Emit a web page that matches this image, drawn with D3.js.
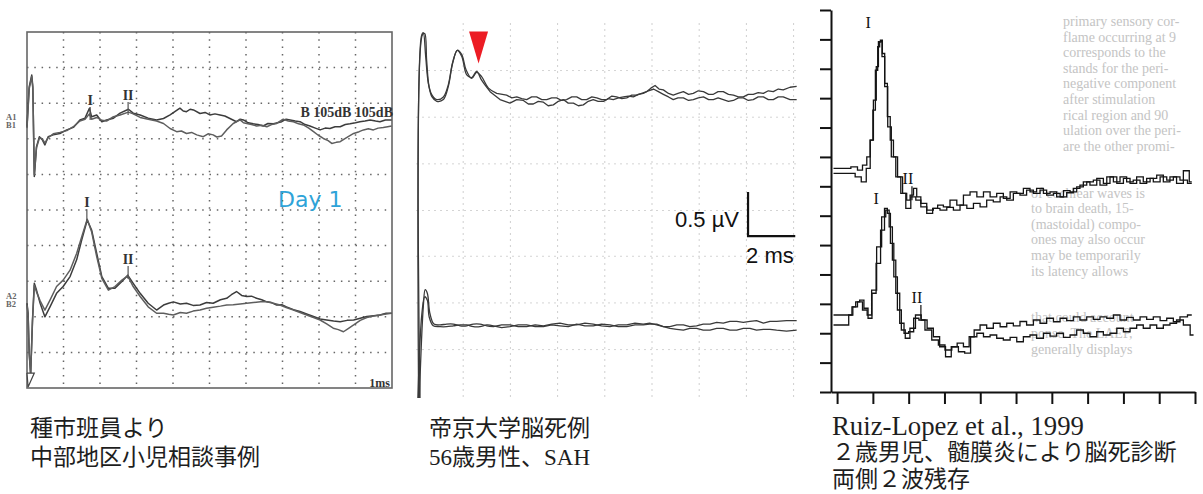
<!DOCTYPE html>
<html>
<head>
<meta charset="utf-8">
<script src="https://cdn.jsdelivr.net/npm/d3@7"></script>
<style>
  body { margin: 0; background: #fff; }
  svg { display: block; }
</style>
</head>
<body>
<svg id="chart" width="1203" height="494"></svg>
<script>
// ---- panel 1 : ms (x) / grid divisions from top (y) ----
const p1TopA = [[0,2.66],[0.06,1.54],[0.13,1.21],[0.16,1.54],[0.2,4.06],[0.26,3.22],[0.34,2.94],[0.42,3.03],[0.49,3.17],[0.58,2.94],[0.72,2.89],[0.9,2.85],[1.09,2.75],[1.27,2.68],[1.45,2.47],[1.59,2.42],[1.71,2.14],[1.77,2.38],[1.91,2.33],[2.05,2.52],[2.18,2.47],[2.37,2.42],[2.55,2.28],[2.78,2.17],[2.91,2.28],[3.1,2.33],[3.32,2.42],[3.55,2.47],
  [3.74,2.43],[3.92,2.33],[4.05,2.24],[4.19,2.14],[4.28,2.22],[4.37,2.24],[4.47,2.17],[4.56,2.19],[4.74,2.29],[4.88,2.26],[5.01,2.33],[5.15,2.3],[5.29,2.33],[5.42,2.36],[5.56,2.43],[5.74,2.52],[5.84,2.45],[5.93,2.47],[6.06,2.55],[6.2,2.58],[6.33,2.6],[6.47,2.64],[6.6,2.57],[6.75,2.58],[6.98,2.52],[7.1,2.45],[7.21,2.47],[7.35,2.5],[7.48,2.52],[7.62,2.6],[7.75,2.64],[7.9,2.7],[8.03,2.75],[8.17,2.7],[8.3,2.71],[8.44,2.66],[8.58,2.66],[8.72,2.6],[8.85,2.58],[9.0,2.55],[9.12,2.52],[9.26,2.5],[9.4,2.47],[9.55,2.5],[9.67,2.52],[9.82,2.47],[9.99,2.47]];
const p1TopB = [[0,2.7],[0.06,1.6],[0.13,1.25],[0.16,1.6],[0.2,4.0],[0.26,3.25],[0.34,2.98],[0.42,3.0],[0.49,3.12],[0.58,2.97],[0.72,2.86],[0.9,2.82],[1.09,2.77],[1.27,2.66],[1.45,2.5],[1.59,2.45],[1.71,2.3],[1.77,2.45],[1.91,2.4],[2.05,2.48],[2.18,2.5],[2.37,2.38],[2.55,2.33],[2.78,2.25],[2.91,2.3],[3.1,2.4],[3.32,2.45],[3.55,2.5],
  [3.74,2.57],[3.92,2.71],[4.1,2.8],[4.23,2.78],[4.37,2.85],[4.51,2.82],[4.65,2.89],[4.83,2.94],[4.96,2.86],[5.1,2.89],[5.2,2.95],[5.33,2.92],[5.47,2.75],[5.65,2.57],[5.84,2.47],[5.93,2.55],[6.02,2.57],[6.15,2.6],[6.29,2.64],[6.43,2.62],[6.57,2.66],[6.7,2.6],[6.84,2.57],[7.02,2.45],[7.16,2.5],[7.3,2.52],[7.44,2.58],[7.57,2.61],[7.72,2.7],[7.85,2.8],[7.98,2.9],[8.12,2.99],[8.25,3.05],[8.35,3.13],[8.47,3.1],[8.58,3.08],[8.7,3.0],[8.8,2.94],[8.95,2.85],[9.1,2.8],[9.22,2.75],[9.35,2.72],[9.49,2.75],[9.62,2.7],[9.76,2.68],[9.88,2.66],[9.99,2.64]];
const p1BotA = [[0,7.62],[0.03,7.9],[0.06,9.03],[0.1,9.63],[0.15,8.09],[0.2,7.06],[0.26,7.25],[0.36,7.62],[0.49,8.0],[0.63,7.72],[0.81,7.34],[0.99,7.15],[1.18,6.87],[1.36,6.4],[1.5,5.84],[1.65,5.28],[1.77,5.56],[1.91,6.22],[2.05,6.87],[2.23,7.2],[2.41,7.2],[2.6,7.01],[2.76,6.83],[2.91,7.06],[3.1,7.34],[3.32,7.62],[3.55,7.81],[3.74,7.67],[3.88,7.62],[4.01,7.58],[4.2,7.64],[4.37,7.62],[4.55,7.68],[4.74,7.67],[4.92,7.6],[5.1,7.62],[5.3,7.52],[5.47,7.48],[5.6,7.38],[5.74,7.29],[5.88,7.4],[6.02,7.43],[6.15,7.42],[6.29,7.48],[6.43,7.52],[6.57,7.58],[6.7,7.6],[6.84,7.67],[6.98,7.66],[7.11,7.72],[7.3,7.8],[7.48,7.85],[7.66,7.92],[7.85,7.99],[8.03,8.06],[8.21,8.09],[8.4,8.12],[8.58,8.14],[8.77,8.1],[8.95,8.09],[9.13,8.04],[9.31,7.99],[9.5,7.97],[9.67,7.95],[9.84,7.9],[9.99,7.9]];
const p1BotB = [[0,7.66],[0.03,7.95],[0.06,9.0],[0.1,9.6],[0.15,8.15],[0.2,7.12],[0.26,7.3],[0.36,7.55],[0.49,7.81],[0.63,7.53],[0.81,7.15],[0.99,6.97],[1.18,6.69],[1.36,6.22],[1.5,5.75],[1.65,5.26],[1.77,5.61],[1.91,6.31],[2.05,6.92],[2.23,7.25],[2.41,7.15],[2.6,6.97],[2.76,6.85],[2.91,7.15],[3.1,7.43],[3.32,7.72],[3.55,7.9],[3.74,7.9],[3.88,7.93],[4.01,7.95],[4.2,7.88],[4.37,7.9],[4.55,7.84],[4.74,7.81],[4.92,7.76],[5.1,7.73],[5.3,7.7],[5.47,7.67],[5.65,7.66],[5.84,7.64],[6.02,7.62],[6.2,7.6],[6.4,7.58],[6.57,7.58],[6.75,7.62],[6.93,7.67],[7.1,7.74],[7.3,7.81],[7.48,7.88],[7.66,7.95],[7.85,8.02],[8.03,8.09],[8.21,8.2],[8.39,8.32],[8.53,8.36],[8.67,8.42],[8.8,8.33],[8.95,8.23],[9.13,8.1],[9.31,8.02],[9.5,7.98],[9.67,7.95],[9.84,7.92],[9.99,7.9]];
const p1Waves = [["I",1.73,2.05],["II",2.77,1.91],["I",1.64,4.92],["II",2.77,6.52]];
const p1Grid = d3.range(1, 10);

// ---- panel 2 : ms (x) / µV above the bottom edge (y) ----
const p2TopA = [[0.17,0],[0.28,4.13],[0.37,4.14],[0.45,3.84],[0.55,3.54],[0.68,3.42],[0.88,3.37],[1.16,3.39],[1.37,3.54],[1.55,3.8],[1.75,3.95],[1.94,3.9],[2.12,3.73],[2.36,3.63],[2.57,3.7],[2.78,3.65],[3.07,3.52],[3.42,3.46],[3.84,3.44],[4.06,3.41],[4.27,3.42],[4.48,3.4],[4.69,3.39],[4.9,3.42],[5.11,3.42],[5.33,3.39],[5.54,3.39],[5.75,3.41],[5.96,3.41],[6.17,3.38],[6.38,3.39],[6.6,3.42],[6.81,3.42],[7.02,3.39],[7.23,3.39],[7.45,3.42],[7.66,3.41],[7.87,3.39],[8.08,3.39],[8.3,3.43],[8.5,3.42],[8.72,3.4],[8.93,3.41],[9.14,3.44],[9.35,3.44],[9.56,3.46],[9.77,3.48],[9.95,3.52],[10.13,3.55],[10.3,3.51],[10.48,3.5],[10.7,3.46],[10.9,3.44],[11.1,3.46],[11.33,3.48],[11.55,3.45],[11.75,3.46],[11.96,3.49],[12.18,3.48],[12.4,3.45],[12.6,3.45],[12.8,3.48],[13.02,3.48],[13.24,3.45],[13.45,3.44],[13.66,3.42],[13.87,3.42],[14.08,3.45],[14.29,3.45],[14.5,3.47],[14.72,3.46],[14.93,3.49],[15.14,3.48],[15.35,3.51],[15.56,3.5],[15.85,3.53],[16.13,3.54]];
const p2TopB = [[0.11,0],[0.23,4.11],[0.31,4.15],[0.41,3.88],[0.52,3.58],[0.66,3.45],[0.88,3.39],[1.16,3.42],[1.37,3.56],[1.55,3.81],[1.75,3.95],[1.94,3.88],[2.15,3.67],[2.36,3.64],[2.57,3.71],[2.78,3.61],[3.14,3.48],[3.56,3.39],[3.77,3.37],[3.98,3.35],[4.27,3.39],[4.55,3.38],[4.76,3.34],[4.97,3.34],[5.18,3.37],[5.4,3.36],[5.6,3.32],[5.82,3.33],[6.03,3.37],[6.24,3.39],[6.45,3.35],[6.67,3.35],[6.88,3.32],[7.09,3.33],[7.3,3.37],[7.51,3.39],[7.72,3.37],[7.94,3.37],[8.15,3.4],[8.36,3.39],[8.58,3.41],[8.79,3.42],[9.0,3.43],[9.21,3.42],[9.42,3.45],[9.63,3.46],[9.85,3.49],[10.06,3.51],[10.27,3.48],[10.48,3.45],[10.7,3.42],[10.9,3.39],[11.1,3.41],[11.33,3.41],[11.55,3.38],[11.75,3.39],[11.96,3.41],[12.18,3.42],[12.4,3.39],[12.6,3.39],[12.8,3.41],[13.02,3.39],[13.24,3.37],[13.45,3.38],[13.66,3.41],[13.87,3.41],[14.08,3.38],[14.29,3.39],[14.5,3.42],[14.72,3.42],[14.93,3.39],[15.14,3.39],[15.35,3.42],[15.56,3.42],[15.85,3.39],[16.13,3.39]];
const p2BotA = [[0.14,0],[0.31,1.04],[0.39,1.23],[0.48,1.19],[0.59,0.96],[0.76,0.84],[1.02,0.83],[1.3,0.84],[1.58,0.84],[1.87,0.82],[2.15,0.82],[2.43,0.84],[2.71,0.84],[3.0,0.82],[3.28,0.81],[3.63,0.83],[3.98,0.83],[4.33,0.81],[4.69,0.81],[5.05,0.83],[5.4,0.82],[5.75,0.84],[6.1,0.85],[6.45,0.83],[6.81,0.83],[7.16,0.85],[7.51,0.84],[7.86,0.82],[8.22,0.81],[8.57,0.83],[8.93,0.83],[9.28,0.85],[9.63,0.84],[9.9,0.85],[10.2,0.83],[10.48,0.81],[10.76,0.81],[11.05,0.83],[11.33,0.83],[11.6,0.81],[11.89,0.82],[12.17,0.84],[12.46,0.84],[12.74,0.86],[13.02,0.85],[13.3,0.87],[13.59,0.87],[13.87,0.86],[14.15,0.87],[14.43,0.88],[14.72,0.85],[15.0,0.87],[15.28,0.87],[15.7,0.88],[16.13,0.88]];
const p2BotB = [[0.08,0],[0.25,0.96],[0.37,1.15],[0.48,1.11],[0.56,0.92],[0.73,0.82],[1.02,0.81],[1.3,0.81],[1.58,0.82],[1.87,0.83],[2.15,0.83],[2.43,0.81],[2.71,0.81],[3.0,0.83],[3.28,0.82],[3.63,0.8],[3.98,0.81],[4.33,0.83],[4.69,0.83],[5.05,0.81],[5.4,0.81],[5.75,0.83],[6.1,0.82],[6.45,0.81],[6.81,0.84],[7.16,0.82],[7.51,0.82],[7.86,0.84],[8.22,0.83],[8.57,0.81],[8.93,0.81],[9.28,0.83],[9.63,0.83],[9.9,0.84],[10.2,0.84],[10.48,0.81],[10.76,0.79],[11.05,0.78],[11.33,0.77],[11.6,0.79],[11.89,0.79],[12.17,0.77],[12.46,0.77],[12.74,0.79],[13.02,0.79],[13.3,0.77],[13.59,0.77],[13.87,0.79],[14.15,0.79],[14.43,0.77],[14.72,0.78],[15.0,0.78],[15.28,0.77],[15.7,0.76],[16.13,0.77]];
const p2GridMs = [2, 4, 6, 8, 10, 12, 14, 16];
const p2GridUv = [0.55, 1.08, 1.61, 2.13, 2.66, 3.19, 3.72];
const p2Arrow = [2.65, 3.8];           // ms, µV of the red marker tip
const p2Bar = {ms: 14.07, uv: 1.84, dMs: 2, dUv: 0.5};

// ---- panel 3 : ms (x) / axis ticks from bottom (y) ----
const p3TopA = [[-0.1,7.61],[0.27,7.61],[0.5,7.66],[0.64,7.55],[0.78,7.72],[0.88,8.0],[0.97,8.57],[1.06,9.93],[1.13,11.07],[1.18,11.92],[1.24,11.97],[1.29,11.52],[1.37,10.5],[1.44,9.37],[1.53,8.57],[1.62,8.0],[1.76,7.32],[1.9,6.76],[1.99,6.53],[2.09,6.7],[2.18,6.93],[2.27,6.64],[2.41,6.42],[2.6,6.08],[2.74,6.25],[2.88,6.36],[3.06,6.3],[3.25,6.53],[3.44,6.36],[3.62,6.7],[3.81,6.81],[4.0,6.64],[4.18,6.81],[4.37,6.64],[4.55,6.76],[4.74,6.59],[4.93,6.81],[5.11,6.76],[5.3,6.93],[5.48,6.81],[5.67,6.93],[5.86,6.76],[6.04,6.81],[6.23,6.64],[6.42,6.85],[6.6,6.81],[6.79,6.98],[6.97,7.15],[7.16,7.04],[7.35,7.27],[7.53,7.1],[7.72,7.32],[7.91,7.1],[8.09,7.27],[8.28,7.1],[8.46,7.32],[8.65,7.15],[8.84,7.27],[9.02,7.38],[9.21,7.15],[9.39,7.32],[9.58,7.1],[9.77,7.53],[9.91,7.15]];
const p3TopB = [[-0.1,7.44],[0.41,7.44],[0.6,7.32],[0.75,7.15],[0.88,7.61],[0.97,8.57],[1.03,9.59],[1.11,10.95],[1.16,11.75],[1.22,11.92],[1.29,11.41],[1.37,10.39],[1.46,9.02],[1.57,8.0],[1.71,7.32],[1.85,6.76],[1.99,6.25],[2.13,6.64],[2.27,6.53],[2.41,6.3],[2.6,6.19],[2.78,6.25],[2.97,6.19],[3.16,6.28],[3.34,6.19],[3.53,6.36],[3.72,6.25],[3.9,6.42],[4.09,6.3],[4.27,6.53],[4.46,6.47],[4.65,6.64],[4.83,6.53],[5.02,6.76],[5.2,6.7],[5.39,6.87],[5.58,6.76],[5.76,6.87],[5.95,6.7],[6.14,6.76],[6.32,6.64],[6.51,6.78],[6.69,6.93],[6.88,7.04],[7.07,7.15],[7.25,7.21],[7.44,7.04],[7.63,7.32],[7.81,7.15],[8.0,7.32],[8.18,7.15],[8.37,7.21],[8.56,7.1],[8.74,7.27],[8.93,7.15],[9.12,7.32],[9.3,7.21],[9.49,7.32],[9.67,7.21],[9.91,7.1]];
const p3BotA = [[-0.1,2.62],[0.36,2.62],[0.47,2.9],[0.57,3.07],[0.69,3.13],[0.81,2.85],[0.92,2.51],[1.03,3.36],[1.15,4.38],[1.28,5.51],[1.37,6.25],[1.44,6.08],[1.54,5.06],[1.63,3.92],[1.74,2.79],[1.85,2.11],[1.96,1.83],[2.11,2.17],[2.27,2.62],[2.43,2.45],[2.6,2.17],[2.78,1.88],[2.95,1.54],[3.11,1.2],[3.27,1.54],[3.44,1.66],[3.62,1.54],[3.76,1.88],[3.9,2.11],[4.09,2.28],[4.27,2.17],[4.46,2.34],[4.65,2.22],[4.83,2.34],[5.02,2.25],[5.2,2.4],[5.39,2.28],[5.58,2.45],[5.76,2.34],[5.95,2.51],[6.14,2.39],[6.32,2.51],[6.51,2.43],[6.69,2.56],[6.88,2.45],[7.07,2.56],[7.25,2.47],[7.44,2.56],[7.63,2.51],[7.81,2.62],[8.0,2.45],[8.18,2.54],[8.37,2.45],[8.56,2.56],[8.74,2.47],[8.93,2.56],[9.12,2.43],[9.3,2.51],[9.49,2.39],[9.67,2.56],[9.91,2.62]];
const p3BotB = [[-0.1,2.28],[0.27,2.28],[0.38,2.62],[0.5,2.9],[0.64,3.07],[0.78,2.79],[0.9,2.62],[1.03,3.47],[1.18,4.94],[1.31,5.96],[1.41,6.19],[1.5,5.62],[1.59,4.49],[1.69,3.36],[1.81,2.34],[1.93,2.0],[2.07,2.05],[2.21,2.51],[2.36,2.45],[2.55,2.11],[2.74,1.77],[2.92,1.6],[3.11,1.43],[3.3,1.54],[3.48,1.37],[3.65,1.32],[3.81,1.88],[4.0,2.0],[4.18,1.88],[4.37,1.94],[4.55,1.83],[4.74,1.77],[4.93,1.86],[5.11,1.71],[5.3,1.88],[5.48,1.94],[5.67,1.83],[5.86,2.0],[6.04,1.9],[6.23,2.0],[6.42,1.86],[6.6,1.94],[6.79,2.11],[6.97,2.0],[7.16,1.88],[7.35,2.05],[7.53,1.94],[7.72,2.0],[7.91,2.17],[8.09,2.05],[8.28,2.17],[8.46,2.28],[8.65,2.17],[8.84,2.28],[9.02,2.17],[9.21,2.28],[9.39,2.34],[9.58,2.45],[9.77,2.28],[9.96,1.94]];
const p3Waves = [["I",0.87,12.38],["II",1.98,7.07],["I",1.09,6.39],["II",2.23,3.03]];
const p3TicksX = d3.range(0, 11);
const p3TicksY = d3.range(0, 14);

// scanned page showing through behind panel 3
const ghostText = ["primary sensory cor-","flame occurring at 9","corresponds to the","stands for the peri-","negative component","after stimulation","rical region and 90","ulation over the peri-","are the other promi-","","",
  "of cochlear waves is","to brain death, 15-","(mastoidal) compo-","ones may also occur","may be temporarily","its latency allows","","","that could account","ponse. The LAEP,","generally displays"];

const captions = [
  {x: 30, lines: ["種市班員より", "中部地区小児相談事例"]},
  {x: 429, lines: ["帝京大学脳死例", "56歳男性、SAH"]},
  {x: 832, lines: ["Ruiz-Lopez et al., 1999", "２歳男児、髄膜炎により脳死診断", "両側２波残存"]}
];

const svg = d3.select("#chart");
svg.append("rect").attr("width", 1203).attr("height", 494).attr("fill", "#fff");

// ================= panel 1 =================
let x1 = d3.scaleLinear([0, 10], [27, 392]),
    y1 = d3.scaleLinear([0, 10], [32, 388]);
const g1 = svg.append("g");

g1.selectAll("line.vgrid").data(p1Grid).enter().append("line")
    .attr("x1", d => x1(d)).attr("x2", d => x1(d))
    .attr("y1", y1(0)).attr("y2", y1(10))
    .attr("stroke", "#666").attr("stroke-width", 1.5).attr("stroke-dasharray", "1.5,5.8");
g1.selectAll("line.hgrid").data(p1Grid).enter().append("line")
    .attr("y1", d => y1(d)).attr("y2", d => y1(d))
    .attr("x1", x1(0)).attr("x2", x1(10))
    .attr("stroke", "#666").attr("stroke-width", 1.5).attr("stroke-dasharray", "1.5,5.8");
g1.append("rect")
    .attr("x", x1(0)).attr("y", y1(0))
    .attr("width", x1(10) - x1(0)).attr("height", y1(10) - y1(0))
    .attr("fill", "none").attr("stroke", "#666").attr("stroke-width", 1.6);

const line1 = d3.line().x(d => x1(d[0])).y(d => y1(d[1]));
g1.selectAll("path.trace").data([p1TopA, p1TopB, p1BotA, p1BotB]).enter()
    .append("path")
    .attr("d", line1)
    .attr("fill", "none")
    .attr("stroke", (d, i) => i % 2 ? "#5e5e5e" : "#3c3c3c")
    .attr("stroke-width", 1.5)
    .attr("stroke-linejoin", "round");

// peak labels with their little markers
g1.selectAll("line.wmark").data(p1Waves).enter().append("line")
    .attr("x1", d => x1(d[1])).attr("x2", d => x1(d[1]))
    .attr("y1", d => y1(d[2]) + 2).attr("y2", d => y1(d[2]) + 15)
    .attr("stroke", "#555").attr("stroke-width", 1.2);
g1.selectAll("text.wave").data(p1Waves).enter().append("text")
    .attr("x", d => x1(d[1])).attr("y", d => y1(d[2]))
    .attr("text-anchor", "middle")
    .attr("font-family", "Liberation Serif, serif").attr("font-weight", 700).attr("font-size", 14)
    .attr("fill", "#333")
    .text(d => d[0]);

const serifBold = sel => sel.attr("font-family", "Liberation Serif, serif").attr("font-weight", 700);
g1.append("text").attr("x", 393).attr("y", 117).attr("text-anchor", "end")
    .call(serifBold).attr("font-size", 14).attr("fill", "#333").text("B 105dB 105dB");
g1.append("text").attr("x", 390).attr("y", 387).attr("text-anchor", "end")
    .call(serifBold).attr("font-size", 12).attr("fill", "#333").text("1ms");
[["A1", 120], ["B1", 128], ["A2", 299], ["B2", 307]].forEach(([t, yy]) => {
    g1.append("text").attr("x", 6).attr("y", yy)
        .call(serifBold).attr("font-size", 8.5).attr("fill", "#666").text(t);
});
g1.append("text").attr("x", 278).attr("y", 207)
    .attr("font-family", "DejaVu Sans, Verdana, sans-serif").attr("font-size", 22)
    .attr("fill", "#2ea3d8").text("Day 1");
// stimulus marker
g1.append("path")
    .attr("d", d3.line()([[x1(0), y1(9.58)], [x1(0.2), y1(9.58)], [x1(0.03), y1(9.97)], [x1(0), y1(9.58)]]))
    .attr("fill", "#fff").attr("stroke", "#444").attr("stroke-width", 1.2);

// ================= panel 2 =================
let x2 = d3.scaleLinear([0, 16], [416, 793.6]),
    y2 = d3.scaleLinear([0, 4.26], [398, 23]);
const g2 = svg.append("g");

g2.selectAll("line.vgrid").data(p2GridMs).enter().append("line")
    .attr("x1", d => x2(d)).attr("x2", d => x2(d))
    .attr("y1", y2(4.26)).attr("y2", y2(0))
    .attr("stroke", "#cfcfcf").attr("stroke-width", 1).attr("stroke-dasharray", "2,4");
g2.selectAll("line.hgrid").data(p2GridUv).enter().append("line")
    .attr("y1", d => y2(d)).attr("y2", d => y2(d))
    .attr("x1", x2(0)).attr("x2", x2(16.2))
    .attr("stroke", "#d4d4d4").attr("stroke-width", 1).attr("stroke-dasharray", "2,4");

const line2 = d3.line().x(d => x2(d[0])).y(d => y2(d[1]));
const smooth2 = d3.line().x(d => x2(d[0])).y(d => y2(d[1])).curve(d3.curveCatmullRom.alpha(0.5));
g2.selectAll("path.trace").data([p2TopA, p2TopB, p2BotA, p2BotB]).enter()
    .append("path")
    // smooth the early peaks, keep the noisy tail as drawn
    .attr("d", d => smooth2(d.filter(p => p[0] <= 3.5)) + line2(d.filter(p => p[0] >= 3.4)).replace(/^M/, "L"))
    .attr("fill", "none")
    .attr("stroke", "#3a3a3a")
    .attr("stroke-width", 1.3)
    .attr("stroke-linejoin", "round");

const ax = x2(p2Arrow[0]), ay = y2(p2Arrow[1]);
g2.append("path")
    .attr("d", `M${ax - 9.5},${ay - 32}L${ax + 9.5},${ay - 32}L${ax},${ay}Z`)
    .attr("fill", "#ec1c24");

g2.append("path")
    .attr("d", d3.line()([
        [x2(p2Bar.ms), y2(p2Bar.uv + p2Bar.dUv)],
        [x2(p2Bar.ms), y2(p2Bar.uv)],
        [x2(p2Bar.ms + p2Bar.dMs), y2(p2Bar.uv)]]))
    .attr("fill", "none").attr("stroke", "#111").attr("stroke-width", 2.2);
g2.append("text").attr("x", x2(p2Bar.ms) - 9).attr("y", y2(p2Bar.uv) - 9)
    .attr("text-anchor", "end")
    .attr("font-family", "Liberation Sans, Arial, sans-serif").attr("font-size", 22).attr("fill", "#111")
    .text("0.5 µV");
g2.append("text").attr("x", x2(p2Bar.ms) - 2).attr("y", y2(p2Bar.uv) + 27)
    .attr("font-family", "Liberation Sans, Arial, sans-serif").attr("font-size", 22).attr("fill", "#111")
    .text("2 ms");

// ================= panel 3 =================
let x3 = d3.scaleLinear([-0.17, 10], [831, 1195]),
    y3 = d3.scaleLinear([0, 13], [392, 10]);
const g3 = svg.append("g");

g3.selectAll("text.ghost").data(ghostText).enter().append("text")
    .attr("x", (d, i) => i < 11 ? 1063 : 1031)
    .attr("y", (d, i) => 26 + i * 15.6)
    .attr("font-family", "Liberation Serif, serif").attr("font-size", 14)
    .attr("fill", "#c4c4c4")
    .text(d => d);

g3.append("g").attr("transform", "translate(0," + y3(0) + ")")
    .call(d3.axisBottom(x3).tickValues(p3TicksX).tickSize(12).tickSizeOuter(0).tickFormat(""))
    .call(a => a.selectAll("path, line").attr("stroke", "#111").attr("stroke-width", 2));
g3.append("g").attr("transform", "translate(" + x3(-0.17) + ",0)")
    .call(d3.axisLeft(y3).tickValues(p3TicksY).tickSize(11).tickSizeOuter(0).tickFormat(""))
    .call(a => a.selectAll("path, line").attr("stroke", "#111").attr("stroke-width", 2));

const line3 = d3.line().x(d => x3(d[0])).y(d => y3(d[1])).curve(d3.curveStep);
g3.selectAll("path.trace").data([p3TopA, p3TopB, p3BotA, p3BotB]).enter()
    .append("path")
    .attr("d", line3)
    .attr("fill", "none")
    .attr("stroke", "#141414")
    .attr("stroke-width", 1.3);

g3.selectAll("text.wave").data(p3Waves).enter().append("text")
    .attr("x", d => x3(d[1])).attr("y", d => y3(d[2]))
    .attr("text-anchor", "middle")
    .attr("font-family", "Liberation Serif, serif").attr("font-size", 16)
    .attr("fill", "#111")
    .text(d => d[0]);
g3.selectAll("line.wmark").data(p3Waves.filter(d => d[0] === "II")).enter().append("line")
    .attr("x1", d => x3(d[1]) + 4).attr("x2", d => x3(d[1]) + 4)
    .attr("y1", d => y3(d[2]) + 2).attr("y2", d => y3(d[2]) + 16)
    .attr("stroke", "#111").attr("stroke-width", 1.2);

// ================= captions =================
captions.forEach((c, ci) => {
    const base = ci === 2 ? [435, 460, 487] : [436, 465];
    c.lines.forEach((t, li) => {
        const tx = svg.append("text")
            .attr("x", c.x).attr("y", base[li])
            .attr("font-family", "Liberation Serif, 'Noto Sans CJK JP', serif")
            .attr("font-size", 23)
            .attr("fill", "#1e1e1e")
            .text(t);
        if (ci === 2 && li === 0) tx.attr("font-size", 27).attr("textLength", 252).attr("lengthAdjust", "spacingAndGlyphs");
    });
});
</script>
</body>
</html>
